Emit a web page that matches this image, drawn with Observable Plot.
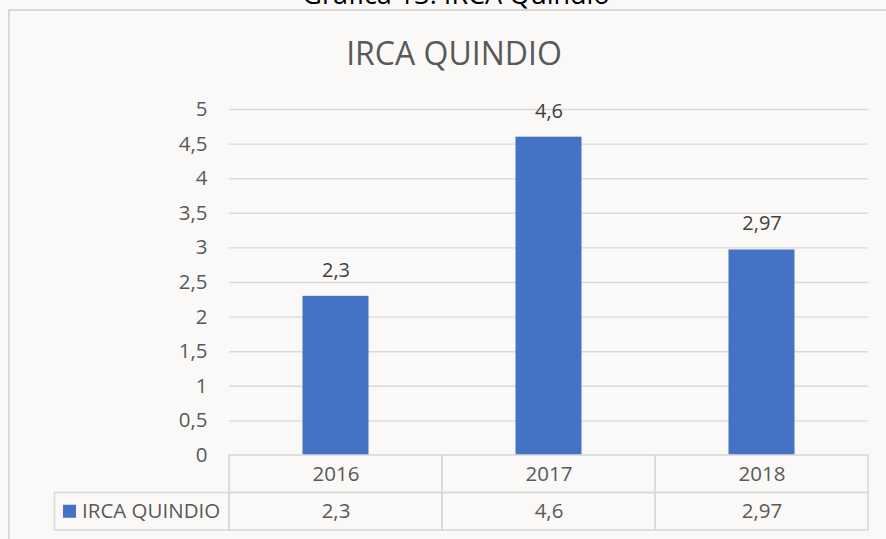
<!DOCTYPE html>
<html><head><meta charset="utf-8">
<script src="https://cdn.jsdelivr.net/npm/d3@7"></script>
<script src="https://cdn.jsdelivr.net/npm/@observablehq/plot@0.6"></script>
<style>
html,body{margin:0;padding:0;background:#faf9f7;overflow:hidden;}
#wrap{position:relative;width:886px;height:539px;overflow:hidden;}
#border{position:absolute;left:8px;top:9px;width:2000px;height:2000px;border:2px solid #d9d9d9;}
#caption{position:absolute;left:13px;width:886px;top:-20px;text-align:center;font:27px "Open Sans";color:#000;line-height:28px;white-space:nowrap;}
#chart{position:absolute;left:0;top:0;}
</style></head><body><div id="wrap"><div id="caption">Gráfica 13. IRCA Quindio</div><div id="border"></div><div id="chart"></div></div>
<script>
const years = ["2016", "2017", "2018"];
const values = [2.3, 4.6, 2.97];
const seriesName = "IRCA QUINDIO";
const chartTitle = "IRCA QUINDIO";
const yTicks = [0, 0.5, 1, 1.5, 2, 2.5, 3, 3.5, 4, 4.5, 5];

const data = years.map((year, i) => ({year, value: values[i]}));
const fmt = v => String(v).replace(".", ",");

const rowH = 37.5;
const gridColor = "#d9d9d9";
const barColor = "#4472c4";

function decorations(index, scales, values, dimensions) {
  const {marginLeft} = dimensions;
  const y0 = scales.y(0);
  const g = d3.create("svg:g");
  // chart title
  g.append("text").attr("x", 454).attr("y", 54).attr("dy", "0.35em")
    .attr("text-anchor", "middle").attr("font-size", 32).attr("fill", "#595959")
    .text(chartTitle);
  // legend cell of data table
  const x0 = 54.5;
  g.append("rect").attr("x", x0).attr("y", y0 + rowH).attr("width", marginLeft - x0).attr("height", rowH)
    .attr("fill", "none").attr("stroke", gridColor).attr("stroke-width", 1.6);
  g.append("rect").attr("x", 63).attr("y", y0 + rowH * 1.5 - 6.5).attr("width", 13).attr("height", 13).attr("fill", barColor);
  g.append("text").attr("x", 82).attr("y", y0 + rowH * 1.5).attr("dy", "0.35em")
    .attr("text-anchor", "start").attr("font-size", 20.5).attr("fill", "#595959").text(seriesName);
  return g.node();
}

const chart = Plot.plot({
  width: 886,
  height: 539,
  marginTop: 109,
  marginBottom: 84,
  marginLeft: 229,
  marginRight: 18,
  style: {fontFamily: "Open Sans", fontSize: "20px", color: "#595959", background: "transparent", overflow: "visible"},
  x: {type: "band", domain: years, padding: 0, axis: null},
  y: {domain: [0, 5], axis: null},
  marks: [
    Plot.gridY(yTicks.filter(t => t > 0), {stroke: gridColor, strokeOpacity: 1, strokeWidth: 1.4}),
    Plot.axisY(yTicks, {label: null, tickSize: 0, tickPadding: 22, tickFormat: fmt, fontSize: 20.5, fill: "#595959"}),
    Plot.barY(data, {x: "year", y: "value", fill: barColor, insetLeft: 73.5, insetRight: 73.5}),
    Plot.text(data, {x: "year", y: "value", text: d => fmt(d.value), dy: -26, fontSize: 20, fill: "#404040"}),
    // data table: header row (years) and value row
    Plot.barY(years, {x: d => d, y1: 0, y2: 0, insetBottom: -rowH, fill: "none", stroke: gridColor, strokeWidth: 1.6}),
    Plot.barY(years, {x: d => d, y1: 0, y2: 0, insetBottom: -rowH, dy: rowH, fill: "none", stroke: gridColor, strokeWidth: 1.6}),
    Plot.text(years, {x: d => d, y: 0, dy: rowH / 2, text: d => d, fontSize: 20.5, fill: "#595959"}),
    Plot.text(data, {x: "year", y: 0, dy: rowH * 1.5, text: d => fmt(d.value), fontSize: 20.5, fill: "#595959"}),
    decorations
  ]
});
document.getElementById("chart").appendChild(chart);
</script>
</body></html>
